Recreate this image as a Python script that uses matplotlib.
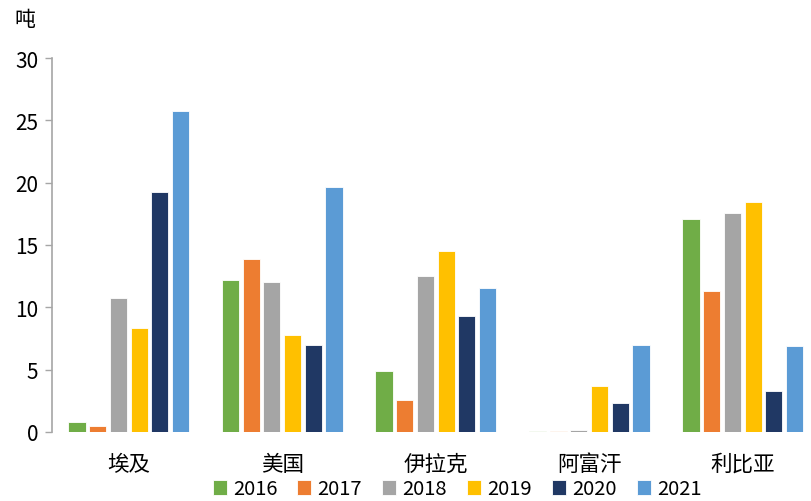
import matplotlib
matplotlib.use("Agg")
import matplotlib.pyplot as plt
import numpy as np

plt.rcParams['font.family'] = ['Noto Sans CJK SC', 'DejaVu Sans']

categories = ['埃及', '美国', '伊拉克', '阿富汗', '利比亚']
years = ['2016', '2017', '2018', '2019', '2020', '2021']
v2016 = [0.8, 12.2, 4.9, 0.05, 17.1]
v2017 = [0.5, 13.9, 2.55, 0.05, 11.3]
v2018 = [10.75, 12.0, 12.5, 0.15, 17.55]
v2019 = [8.35, 7.8, 14.5, 3.7, 18.45]
v2020 = [19.25, 7.0, 9.3, 2.3, 3.3]
v2021 = [25.75, 19.65, 11.55, 7.0, 6.9]
series = [v2016, v2017, v2018, v2019, v2020, v2021]
colors = ['#70AD47', '#ED7D31', '#A5A5A5', '#FFC000', '#203864', '#5B9BD5']
yticks = [0, 5, 10, 15, 20, 25, 30]

fig = plt.figure(figsize=(8.11, 5.02), dpi=100)
ax = fig.add_axes([52/811, 1-433/502, 153.5*5/811, (433-59)/502])

x = np.arange(len(categories))
step = 0.135
width = 0.112
for i, (vals, c, lab) in enumerate(zip(series, colors, years)):
    ax.bar(x + (i - 2.5) * step, vals, width=width, color=c, label=lab,
           edgecolor='white', linewidth=0.6)

ax.set_xlim(-0.5, 4.5)
ax.set_ylim(0, 30)
ax.set_yticks(yticks)
ax.set_xticks(x)
ax.set_xticklabels(categories, fontsize=15.5)
ax.tick_params(axis='x', length=0, pad=15)
ax.tick_params(axis='y', length=5, width=1, color='#A6A6A6', labelsize=15, pad=5)
for s in ['top', 'right', 'bottom']:
    ax.spines[s].set_visible(False)
ax.spines['left'].set_color('#A6A6A6')
ax.spines['left'].set_linewidth(1.2)

fig.text(14/811, 1-20/502, '吨', fontsize=15, va='center', ha='left')

leg = fig.legend(loc='center', bbox_to_anchor=(457/811, 1-490/502), ncol=6,
                 frameon=False, fontsize=14.5, handlelength=0.7, handleheight=0.7,
                 handletextpad=0.3, columnspacing=1.0, borderaxespad=0)

fig.savefig('out.png', dpi=100)
